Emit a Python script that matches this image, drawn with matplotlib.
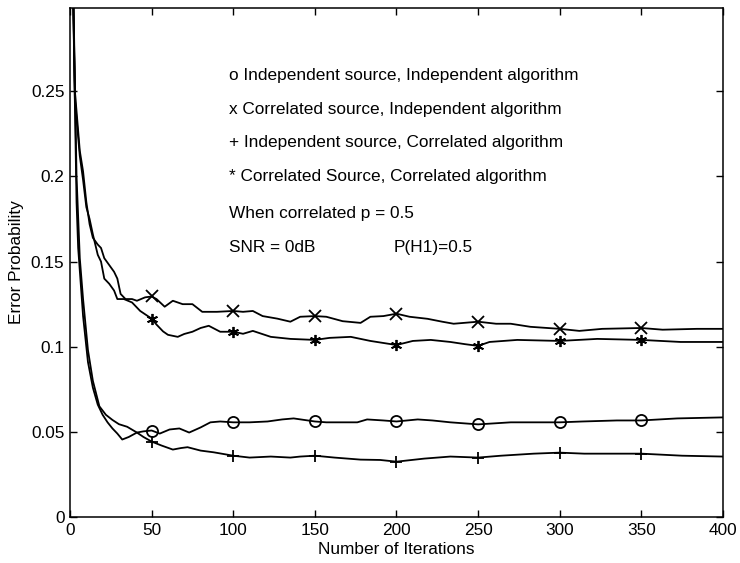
import numpy as np
import matplotlib
matplotlib.use("Agg")
import matplotlib.pyplot as plt

plt.rcParams['font.family'] = ['Liberation Sans', 'DejaVu Sans']

# o : Independent source, Independent algorithm
it_ii = [1, 2, 4, 5, 8, 11, 14, 17, 20, 23, 26, 29, 32, 36, 41, 45, 50, 55, 61, 67,
         73, 80, 86, 92, 100, 110, 121, 130, 137, 150, 157, 167, 176, 182, 192, 200,
         213, 222, 233, 250, 270, 286, 300, 314, 335, 350, 372, 400]
pe_ii = [0.36, 0.30, 0.185, 0.158, 0.118, 0.091, 0.076, 0.066, 0.060, 0.0556, 0.052,
         0.049, 0.0455, 0.047, 0.0496, 0.0503, 0.0508, 0.0490, 0.0514, 0.052,
         0.0496, 0.0526, 0.0556, 0.0561, 0.0556, 0.0556, 0.0561, 0.0573, 0.0579,
         0.0561, 0.0556, 0.0556, 0.0556, 0.0573, 0.0567, 0.0561,
         0.0573, 0.0567, 0.0556, 0.0544, 0.0556, 0.0556, 0.0556, 0.0561, 0.0567,
         0.0567, 0.0579, 0.0585]

# x : Correlated source, Independent algorithm
it_ci = [1, 3, 6, 8, 10, 12, 14, 17, 19, 21, 24, 27, 29, 31, 34, 38, 41, 46, 50, 53,
         58, 63, 69, 75, 81, 90, 100, 106, 112, 118, 127, 135, 141, 150, 157, 167,
         178, 184, 192, 200, 208, 219, 228, 235, 250, 261, 270, 282, 300, 312, 326,
         350, 363, 384, 400]
pe_ci = [0.36, 0.25, 0.215, 0.203, 0.185, 0.172, 0.164, 0.160, 0.158, 0.152, 0.148,
         0.144, 0.140, 0.131, 0.128, 0.128, 0.127, 0.129, 0.1295, 0.128,
         0.1235, 0.127, 0.125, 0.125, 0.1205, 0.1205, 0.121, 0.1205, 0.121, 0.118,
         0.1165, 0.1147, 0.1176, 0.118, 0.1176, 0.115,
         0.114, 0.1176, 0.118, 0.1194, 0.1176, 0.1164, 0.1147, 0.1135, 0.1147,
         0.1135, 0.1135, 0.1117, 0.1105, 0.1093, 0.1105,
         0.111, 0.110, 0.1105, 0.1105]

# + : Independent source, Correlated algorithm
it_ic = [1, 2, 4, 6, 8, 11, 14, 18, 22, 26, 30, 35, 41, 45, 50, 56, 63, 68, 72, 80,
         88, 100, 110, 123, 135, 141, 150, 162, 178, 190, 200, 217, 233, 250, 264,
         284, 300, 315, 336, 350, 375, 400]
pe_ic = [0.36, 0.31, 0.20, 0.152, 0.128, 0.098, 0.080, 0.065, 0.060, 0.057, 0.0545,
         0.053, 0.0496, 0.047, 0.0443, 0.042, 0.0396, 0.0405, 0.041, 0.039,
         0.038, 0.036, 0.0349, 0.0355, 0.0349, 0.0355, 0.036, 0.0349, 0.0337,
         0.0335, 0.0325, 0.0343, 0.0355, 0.0349, 0.036,
         0.0372, 0.0378, 0.0372, 0.0372, 0.0372, 0.036, 0.0355]

# * : Correlated Source, Correlated algorithm
it_cc = [1, 3, 6, 8, 10, 12, 14, 17, 19, 21, 24, 27, 29, 33, 38, 43, 50, 53, 57, 60,
         66, 70, 75, 80, 85, 92, 100, 106, 112, 123, 135, 150, 159, 172, 184, 200,
         210, 221, 233, 242, 250, 257, 274, 300, 323, 350, 374, 400]
pe_cc = [0.36, 0.245, 0.212, 0.198, 0.182, 0.175, 0.166, 0.154, 0.150, 0.140, 0.137,
         0.133, 0.128, 0.128, 0.126, 0.121, 0.1165, 0.113, 0.109, 0.107,
         0.1058, 0.1075, 0.1088, 0.111, 0.1123, 0.1088, 0.1088, 0.1076, 0.1093,
         0.1058, 0.1046, 0.104, 0.1052, 0.1058, 0.1034, 0.101,
         0.1034, 0.104, 0.1028, 0.1015, 0.1005, 0.1028, 0.104, 0.1034, 0.1046,
         0.104, 0.1028, 0.1028]

marker_iters = [50, 100, 150, 200, 250, 300, 350]

legend_lines = ["o Independent source, Independent algorithm",
                "x Correlated source, Independent algorithm",
                "+ Independent source, Correlated algorithm",
                "* Correlated Source, Correlated algorithm",
                "When correlated p = 0.5",
                "SNR = 0dB"]
extra_note = "P(H1)=0.5"

FS = 12.4

fig = plt.figure(figsize=(7.40, 5.63), dpi=100)
ax = fig.add_axes([0.0946, 0.0817, 0.8824, 0.9043])

# MATLAB style asterisk for the last series
series = [(it_ii, pe_ii, 'o'), (it_ci, pe_ci, 'x'),
          (it_ic, pe_ic, '+'), (it_cc, pe_cc, (6, 2, 0))]
for its, vals, mk in series:
    its = np.array(its)
    idx = list(np.where(np.isin(its, marker_iters))[0])
    ax.plot(its, vals, color='black', lw=1.3, marker=mk, markevery=idx,
            markersize=8, markerfacecolor='none', markeredgecolor='black',
            markeredgewidth=1.3)

ax.set_xlim(0, 400)
ax.set_ylim(0, 0.299)
ax.set_xticks([0, 50, 100, 150, 200, 250, 300, 350, 400])
ax.set_yticks([0, 0.05, 0.1, 0.15, 0.2, 0.25])
ax.set_yticklabels(["0", "0.05", "0.1", "0.15", "0.2", "0.25"])
ax.tick_params(direction='in', top=True, right=True, length=5, width=1,
               labelsize=FS, pad=4)
for s in ax.spines.values():
    s.set_linewidth(1.1)

ax.set_xlabel("Number of Iterations", fontsize=FS, labelpad=3)
ax.set_ylabel("Error Probability", fontsize=FS, labelpad=5)

ys = [0.868, 0.800, 0.735, 0.668, 0.597, 0.530]
for txt, y in zip(legend_lines, ys):
    ax.text(0.244, y, txt, transform=ax.transAxes, fontsize=FS, va='center', ha='left')
ax.text(0.495, ys[-1], extra_note, transform=ax.transAxes, fontsize=FS,
        va='center', ha='left')

fig.savefig("out.png", dpi=100)
